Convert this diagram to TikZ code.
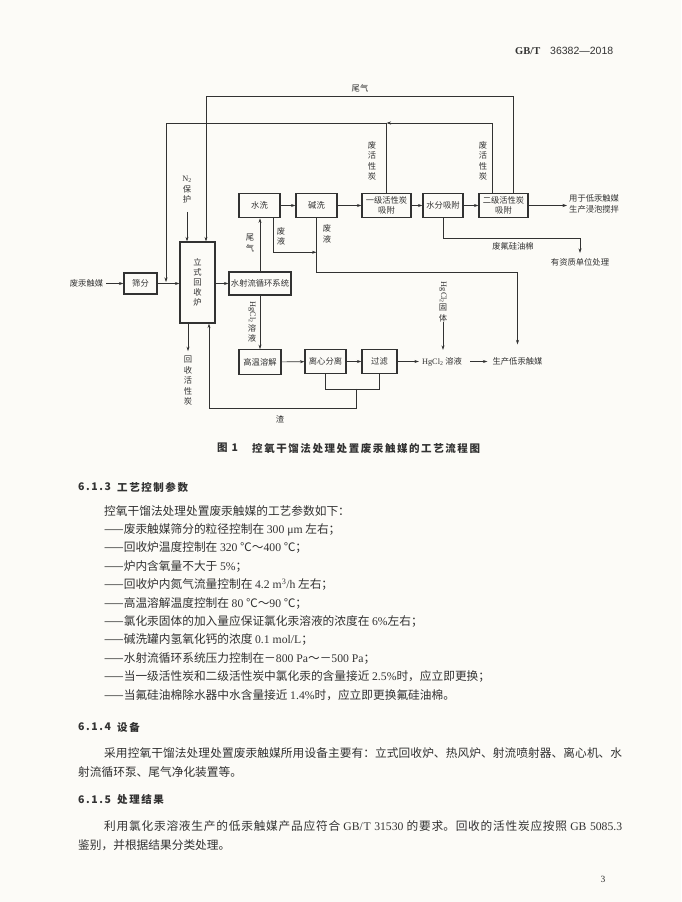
\documentclass[tikz,border=0pt]{standalone}
\usepackage{fontspec}
\usepackage{graphicx}
\setmainfont{Noto Sans CJK SC}
\newfontfamily\enrm{Liberation Serif}
\newfontfamily\ensf{Liberation Sans}
\newfontfamily\heiti[LetterSpace=15]{Noto Sans CJK SC}
\XeTeXlinebreaklocale "zh"
\XeTeXlinebreakskip=0pt plus 2pt
\usetikzlibrary{arrows.meta}
\definecolor{ink}{RGB}{50,50,50}
\definecolor{paper}{RGB}{252,251,247}
\newcommand{\hgcl}{{\enrm HgCl\textsubscript{2}}}

\begin{document}
\begin{tikzpicture}[x=1pt, y=-1pt,
	box/.style={draw=ink, line width=1.1pt, inner sep=0pt, align=center, text=ink,
		font=\fontsize{8.3}{10}\selectfont, minimum height=24.5pt},
	lbl/.style={inner sep=0pt, align=center, text=ink, font=\fontsize{8.3}{10.5}\selectfont},
	flow/.style={draw=ink, line width=0.6pt, -{Stealth[length=4.5pt,width=3pt]}},
	link/.style={draw=ink, line width=0.6pt},
	body/.style={anchor=west, inner sep=0pt, text=ink, font=\fontsize{11.7}{14}\selectfont},
	head/.style={anchor=west, inner sep=0pt, text=ink, font=\heiti\bfseries\fontsize{10.5}{13}\selectfont}]

	\fill[paper] (0,0) rectangle (681,902);
	\useasboundingbox (0,0) rectangle (681,902);

	% page header
	\node[anchor=west, inner sep=0pt, text=ink, font=\enrm\bfseries\fontsize{10.5}{12}\selectfont] (hdrA) at (515,51) {GB/T};
	\node[anchor=west, inner sep=0pt, text=ink, font=\ensf\fontsize{10.5}{12}\selectfont] (hdrB) at (550,51) {36382—2018};

	% boxes
	\node[lbl] (feihg) at (86.5,283.5) {废汞触媒};
	\node[box, minimum width=33pt, minimum height=21pt] (shaifen) at (140.5,283.5) {筛分};
	\node[box, minimum width=35pt, minimum height=81pt] (lu) at (197.5,282.5) {立\\式\\回\\收\\炉};
	\node[box, minimum width=62pt, minimum height=23pt] (sheliu) at (260,283.5) {水射流循环系统};
	\node[box, minimum width=41pt] (shuixi) at (259.5,205.5) {水洗};
	\node[box, minimum width=41pt] (jianxi) at (316.5,205.5) {碱洗};
	\node[box, minimum width=49pt] (yiji) at (386.5,205.5) {一级活性炭\\吸附};
	\node[box, minimum width=40pt] (shuifen) at (443,205.5) {水分吸附};
	\node[box, minimum width=49pt] (erji) at (503.5,205.5) {二级活性炭\\吸附};
	\node[box, minimum width=42pt] (gaowen) at (260,362) {高温溶解};
	\node[box, minimum width=41pt] (lixin) at (325.5,361.5) {离心分离};
	\node[box, minimum width=35pt] (guolv) at (379.5,361.5) {过滤};

	% labels
	\node[lbl, anchor=west, align=left] (yongyu) at (569,204) {用于低汞触媒\\生产浸泡搅拌};
	\node[lbl] (youzi) at (580,262) {有资质单位处理};
	\node[lbl] (feifu) at (513,246) {废氟硅油棉};
	\node[lbl] (hgry) at (442,361.5) {\hgcl{} 溶液};
	\node[lbl] (shengchan) at (517.5,361.5) {生产低汞触媒};
	\node[lbl] (n2) at (187,190) {{\enrm N\textsubscript{2}}\\保\\护};
	\node[lbl] (weiqiA) at (360,88) {尾气};
	\node[lbl] (feitanA) at (372,161) {废\\活\\性\\炭};
	\node[lbl] (feitanB) at (483,161) {废\\活\\性\\炭};
	\node[lbl] (weiqiB) at (250,243) {尾\\气};
	\node[lbl] (feiyeA) at (281,236.5) {废\\液};
	\node[lbl] (feiyeB) at (327,234) {废\\液};
	\node[lbl] (hgsol) at (252,322) {\rotatebox{-90}{\hgcl}\\溶\\液};
	\node[lbl] (hgsolid) at (443,302) {\rotatebox{-90}{\hgcl}\\固\\体};
	\node[lbl] (huishou) at (188,381) {回\\收\\活\\性\\炭};
	\node[lbl] (zha) at (280,419) {渣};

	% main line
	\draw[flow, shorten <=3pt] (feihg) -- (shaifen);
	\draw[flow] (shaifen) -- (shaifen -| lu.west);
	\draw[flow] (lu.east |- sheliu) -- (sheliu.west);
	\draw[flow, shorten <=8pt] (n2.south) -- ([xshift=-10.5pt]lu.north);
	\draw[flow] (sheliu.north) -- (sheliu.north |- shuixi.south);
	\draw[flow] (shuixi) -- (jianxi);
	\draw[flow] (jianxi) -- (yiji);
	\draw[flow] (yiji) -- (shuifen);
	\draw[flow] (shuifen) -- (erji);
	\draw[flow, shorten >=2pt] (erji.east) -- (erji.east -| yongyu.west);
	\draw[flow] (shuifen.south) -- ++(0,19.5) -| ([yshift=5pt]youzi.north);

	% tail gas and spent carbon
	\draw[flow] ([xshift=9.5pt]erji.north) -- ++(0,-96.25) -| ([xshift=8.5pt]lu.north);
	\coordinate (tanJ) at (yiji.north |- 0,123);
	\coordinate (feedJ) at (166,282);
	\draw[flow] ([xshift=-11.5pt]erji.north) |- (tanJ);
	\draw[link] (yiji.north) -- (tanJ);
	\draw[flow] (tanJ) -| (feedJ);

	% waste liquid
	\coordinate (feiyeJ) at ([yshift=-34pt]jianxi.south);
	\coordinate (scT) at ([yshift=13pt]shengchan.north);
	\draw[flow] ([xshift=-7pt]shuixi.south east) |- (feiyeJ);
	\draw[flow] (jianxi.south) -- ++(0,54) -| (scT);

	% solution line
	\draw[flow] (sheliu.south) -- (sheliu.south |- gaowen.north);
	\draw[flow] (gaowen) -- (lixin);
	\draw[flow] (lixin) -- (guolv);
	\draw[flow, shorten >=3pt] (guolv) -- (hgry);
	\draw[flow, shorten <=8pt, shorten >=5pt] (hgry) -- (shengchan);
	\coordinate (hgT) at ([yshift=7pt]hgry.north);
	\draw[flow] (hgsolid.south) -- (hgsolid.south |- hgT);
	\coordinate (hsT) at ([yshift=5pt]huishou.north);
	\draw[flow] ([xshift=-9.5pt]lu.south) -- (hsT);

	% residue
	\draw[link] (lixin.south) -- ++(0,15) -| (guolv.south);
	\coordinate (zhaJ) at (356,388.75);
	\draw[flow] (zhaJ) -- ++(0,20) -| ([xshift=11.5pt]lu.south);

	% caption
	\node[head] (figno) at (217,448) {图 1};
	\node[head] (figcap) at (252,448) {控氧干馏法处理处置废汞触媒的工艺流程图};

	% 6.1.3
	\node[head] (h613) at (78,487) {6.1.3};
	\node[head] (h613t) at (117,487) {工艺控制参数};
	\node[body] (intro) at (104,511) {控氧干馏法处理处置废汞触媒的工艺参数如下：};
	\foreach \txt [count=\i from 0] in {
		{废汞触媒筛分的粒径控制在 {\enrm 300 μm} 左右；},
		{回收炉温度控制在 {\enrm 320} ℃～{\enrm 400} ℃；},
		{炉内含氧量不大于 {\enrm 5\%}；},
		{回收炉内氮气流量控制在 {\enrm 4.2 m\textsuperscript{3}/h} 左右；},
		{高温溶解温度控制在 {\enrm 80} ℃～{\enrm 90} ℃；},
		{氯化汞固体的加入量应保证氯化汞溶液的浓度在 {\enrm 6\%}左右；},
		{碱洗罐内氢氧化钙的浓度 {\enrm 0.1 mol/L}；},
		{水射流循环系统压力控制在－{\enrm 800 Pa}～－{\enrm 500 Pa}；},
		{当一级活性炭和二级活性炭中氯化汞的含量接近 {\enrm 2.5\%}时，应立即更换；},
		{当氟硅油棉除水器中水含量接近 {\enrm 1.4\%}时，应立即更换氟硅油棉。}} {
		\node[body] (item\i) at (104,{529.4+18.4*\i}) {——\txt};
	}

	% 6.1.4
	\node[head] (h614) at (78,727) {6.1.4};
	\node[head] (h614t) at (117,727) {设备};
	\node[body, text width=518pt, align=justify] (p614a) at (104,753) {\parfillskip=0pt 采用控氧干馏法处理处置废汞触媒所用设备主要有：立式回收炉、热风炉、射流喷射器、离心机、水\par};
	\node[body] (p614b) at (78,772) {射流循环泵、尾气净化装置等。};

	% 6.1.5
	\node[head] (h615) at (78,800) {6.1.5};
	\node[head] (h615t) at (117,800) {处理结果};
	\node[body, text width=518pt, align=justify] (p615a) at (104,826) {\parfillskip=0pt 利用氯化汞溶液生产的低汞触媒产品应符合 {\enrm GB/T 31530} 的要求。回收的活性炭应按照 {\enrm GB 5085.3}\par};
	\node[body] (p615b) at (78,845) {鉴别，并根据结果分类处理。};

	\node[inner sep=0pt, text=ink, font=\enrm\fontsize{9.5}{11}\selectfont] (pageno) at (603,879) {3};
\end{tikzpicture}
\end{document}
